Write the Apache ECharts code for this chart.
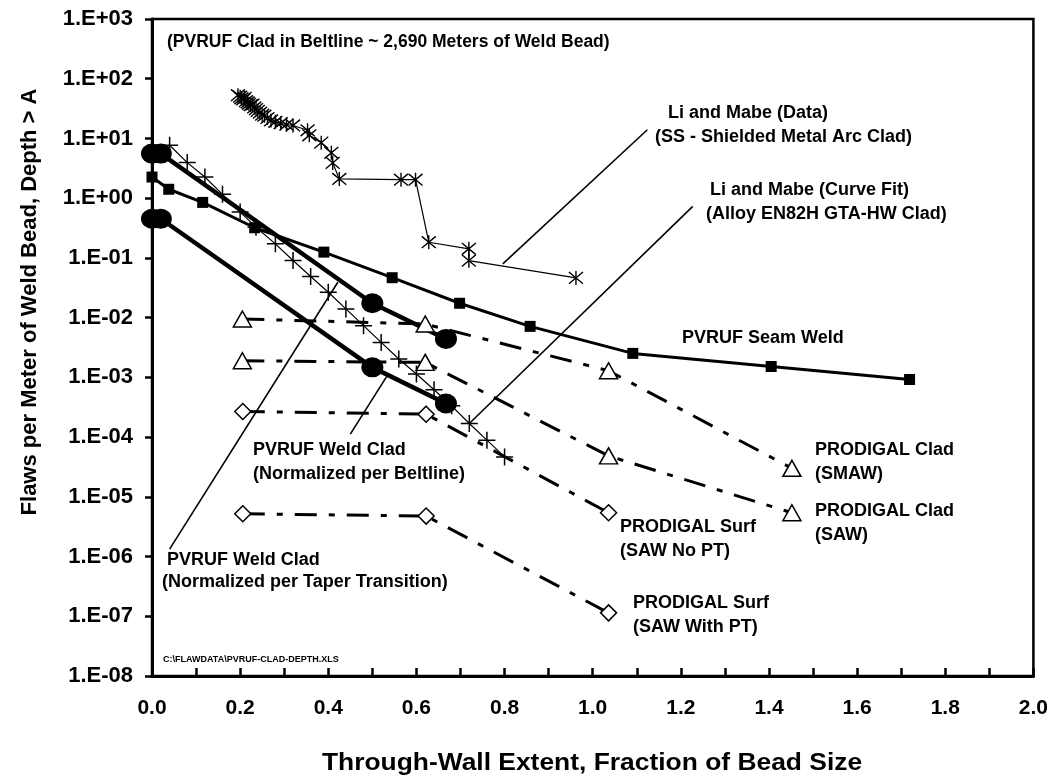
<!DOCTYPE html>
<html><head><meta charset="utf-8">
<script src="https://cdn.jsdelivr.net/npm/echarts@6/dist/echarts.min.js"></script>
<style>html,body{margin:0;padding:0;background:#fff}#c{width:1051px;height:780px}</style>
</head><body><div id="c"></div>
<script>
// ---- data ----
const seamWeld = [[0.0,2.26],[0.038,1.41],[0.115,0.85],[0.233,0.32],[0.39,0.125],[0.545,0.0466],[0.698,0.0174],[0.858,0.00714],[1.091,0.00252],[1.405,0.00152],[1.719,0.00092]];
const cladBeltline = [[0.0,5.58],[0.02,5.58],[0.5,0.0174],[0.667,0.0044]];
const cladTaper = [[0.0,0.453],[0.02,0.453],[0.5,0.00147],[0.667,0.000365]];
const liMabeFit = [[0.04,7.69],[0.08,3.94],[0.12,2.26],[0.16,1.16],[0.2,0.585],[0.236,0.327],[0.28,0.172],[0.32,0.0904],[0.36,0.0488],[0.4,0.0266],[0.44,0.014],[0.48,0.00734],[0.52,0.00385],[0.56,0.00203],[0.6,0.00114],[0.64,0.00062],[0.68,0.000334],[0.72,0.000169],[0.76,0.0000888],[0.8,0.0000466]];
const liMabeData = [[0.195,53],[0.2,50],[0.203,47],[0.207,45],[0.21,48],[0.213,42],[0.217,40],[0.22,38],[0.224,36],[0.228,37],[0.232,33],[0.236,31],[0.24,29],[0.245,27],[0.25,25],[0.255,24],[0.262,22],[0.27,20],[0.28,19],[0.292,18],[0.305,17],[0.32,16.5],[0.353,13.7],[0.357,11.3],[0.384,8.5],[0.407,5.75],[0.41,3.9],[0.425,2.1],[0.565,2.04],[0.598,2.04],[0.628,0.183],[0.719,0.142],[0.719,0.09],[0.962,0.0463]];
const prodCladSMAW = [[0.205,0.0095],[0.62,0.00783],[1.036,0.00129],[1.452,0.00003]];
const prodCladSAW = [[0.205,0.0019],[0.62,0.00178],[1.036,0.0000484],[1.452,0.0000054]];
const prodSurfNoPT = [[0.206,0.000268],[0.622,0.000242],[1.036,0.0000054]];
const prodSurfPT = [[0.206,0.0000052],[0.622,0.00000476],[1.036,0.000000114]];
const xTicks = ['0.0','0.2','0.4','0.6','0.8','1.0','1.2','1.4','1.6','1.8','2.0'];
// leader lines (data coords)
const leaderLiData = [[0.796,0.0796],[1.124,14]];
const leaderLiFit = [[0.72,0.000169],[1.227,0.728]];
const leaderBelt = [[0.45,0.000112],[0.532,0.00102]];
const leaderTaper = [[0.04,0.00000133],[0.4216,0.0391]];

const F = 'Liberation Sans, Arial, sans-serif';
const chart = echarts.init(document.getElementById('c'));
const astPath = 'path://M0,0L10,10M10,0L0,10M5,-1L5,11';
const plusPath = 'path://M5,0L5,10M0,5L10,5';
const dashDot = [22,12,6,12];
function ln(name, data, o){ return Object.assign({name, type:'line', data, animation:false, z:3}, o); }
const series = [
  ln('Li Mabe Data', liMabeData, {symbol:astPath, symbolSize:14, lineStyle:{color:'#000',width:1.2}, itemStyle:{color:'none',borderColor:'#000',borderWidth:1.4}}),
  ln('Li Mabe Fit', liMabeFit, {symbol:plusPath, symbolSize:17, lineStyle:{color:'#000',width:1.2}, itemStyle:{color:'none',borderColor:'#000',borderWidth:1.5}}),
  ln('Seam', seamWeld, {symbol:'rect', symbolSize:11, lineStyle:{color:'#000',width:3}, itemStyle:{color:'#000'}}),
  ln('Belt', cladBeltline, {symbol:'circle', symbolSize:[22,20], lineStyle:{color:'#000',width:4.5}, itemStyle:{color:'#000'}}),
  ln('Taper', cladTaper, {symbol:'circle', symbolSize:[22,20], lineStyle:{color:'#000',width:4.5}, itemStyle:{color:'#000'}}),
  ln('SMAW', prodCladSMAW, {symbol:'triangle', symbolSize:[18,16], lineStyle:{color:'#000',width:3,type:dashDot}, itemStyle:{color:'#fff',borderColor:'#000',borderWidth:1.5}}),
  ln('SAW', prodCladSAW, {symbol:'triangle', symbolSize:[18,16], lineStyle:{color:'#000',width:3,type:dashDot}, itemStyle:{color:'#fff',borderColor:'#000',borderWidth:1.5}}),
  ln('NoPT', prodSurfNoPT, {symbol:'diamond', symbolSize:[16,16], lineStyle:{color:'#000',width:3,type:dashDot}, itemStyle:{color:'#fff',borderColor:'#000',borderWidth:1.5}}),
  ln('PT', prodSurfPT, {symbol:'diamond', symbolSize:[16,16], lineStyle:{color:'#000',width:3,type:dashDot}, itemStyle:{color:'#fff',borderColor:'#000',borderWidth:1.5}}),
];
[leaderLiData, leaderLiFit, leaderBelt, leaderTaper].forEach((d,i)=>{
  series.push(ln('leader'+i, d, {symbol:'none', lineStyle:{color:'#000',width:1.6}, z:2}));
});
const T = (x,y,text,size)=>({type:'text', x, y, z:10, style:{text, font:'bold '+(size||18)+'px '+F, fill:'#000', verticalAlign:'middle'}});
chart.setOption({
  backgroundColor:'#fff',
  animation:false,
  grid:{left:152, right:17, top:19, bottom:104, show:true, borderColor:'#000', borderWidth:2.5},
  xAxis:{type:'value', min:0, max:2, interval:0.2,
    axisLine:{lineStyle:{color:'#000',width:3}},
    axisTick:{inside:true, length:8, lineStyle:{color:'#000',width:2.5}},
    minorTick:{show:true, splitNumber:2, length:8, lineStyle:{color:'#000',width:2.5}},
    splitLine:{show:false},
    axisLabel:{margin:22, color:'#000', fontFamily:F, fontWeight:'bold', fontSize:21, formatter:(v)=>xTicks[Math.round(v/0.2)]}},
  yAxis:{type:'log', logBase:10, min:1e-8, max:1e3, interval:1,
    axisLine:{lineStyle:{color:'#000',width:3}},
    axisTick:{inside:false, length:7, lineStyle:{color:'#000',width:2.5}},
    splitLine:{show:false},
    axisLabel:{margin:19, color:'#000', fontFamily:F, fontWeight:'bold', fontSize:22, showMinLabel:true, showMaxLabel:true, hideOverlap:false,
      formatter:(v)=>{const e=Math.round(Math.log10(v)); return '1.E'+(e<0?'-':'+')+String(Math.abs(e)).padStart(2,'0');}}},
  series,
  graphic:[
    {type:'text', x:30, y:302, rotation:Math.PI/2, z:10, style:{text:'Flaws per Meter of Weld Bead, Depth > A', font:'bold 22px '+F, fill:'#000', align:'center', verticalAlign:'middle'}},
    {type:'text', x:592, y:763, scaleX:1.1, z:10, style:{text:'Through-Wall Extent, Fraction of Bead Size', font:'bold 24px '+F, fill:'#000', align:'center', verticalAlign:'middle'}},
    T(167,42,'(PVRUF Clad in Beltline ~ 2,690 Meters of Weld Bead)',17.5),
    T(668,113,'Li and Mabe (Data)'),
    T(655,137,'(SS - Shielded Metal Arc Clad)'),
    T(710,190,'Li and Mabe (Curve Fit)'),
    T(706,214,'(Alloy EN82H GTA-HW Clad)'),
    T(682,338,'PVRUF Seam Weld'),
    T(815,450,'PRODIGAL Clad'),
    T(815,474,'(SMAW)'),
    T(815,511,'PRODIGAL Clad'),
    T(815,535,'(SAW)'),
    T(620,527,'PRODIGAL Surf'),
    T(620,551,'(SAW No PT)'),
    T(633,603,'PRODIGAL Surf'),
    T(633,627,'(SAW With PT)'),
    T(253,450,'PVRUF Weld Clad'),
    T(253,474,'(Normalized per Beltline)'),
    T(167,560,'PVRUF Weld Clad'),
    T(162,582,'(Normalized per Taper Transition)'),
    {type:'text', x:163, y:660, z:10, style:{text:'C:\\FLAWDATA\\PVRUF-CLAD-DEPTH.XLS', font:'bold 9px '+F, fill:'#000', verticalAlign:'middle'}}
  ]
});
</script></body></html>
